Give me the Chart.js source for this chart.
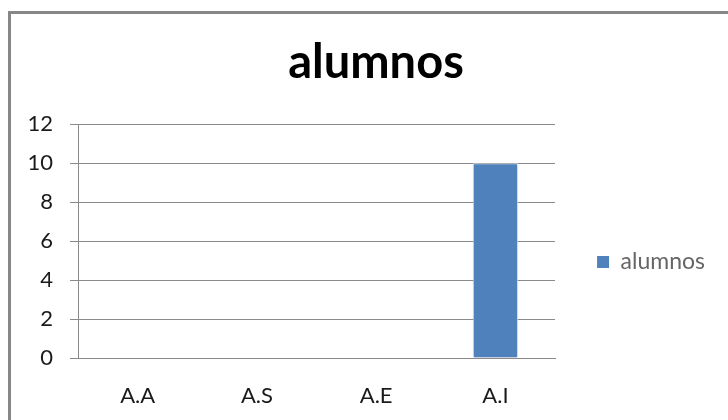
<!DOCTYPE html>
<html>
<head>
<meta charset="utf-8">
<script src="https://cdn.jsdelivr.net/npm/chart.js@4/dist/chart.umd.min.js"></script>
<style>
  html, body { margin: 0; padding: 0; background: #fff; overflow: hidden; }
  .wrap { position: relative; width: 728px; height: 420px; }
  .frame {
    position: absolute; left: 8px; top: 11px;
    width: 740px; height: 440px;
    border: 3px solid #878787;
    box-sizing: border-box;
  }
  canvas { position: absolute; left: 0; top: 0; }
</style>
</head>
<body>
<div class="wrap">
  <div class="frame"></div>
  <canvas id="chart" width="728" height="420"></canvas>
</div>
<script>
// data
const categories = ['A.A', 'A.S', 'A.E', 'A.I'];
const alumnos = [0, 0, 0, 10];
const yTicks = [0, 2, 4, 6, 8, 10, 12];

const gridColor = '#8a8a8a';
const barColor = '#4f81bd';

// soft halo around the bar, like the office chart
const barShadow = {
    id: 'barShadow',
    beforeDatasetsDraw(chart) {
        const ctx = chart.ctx;
        ctx.save();
        ctx.shadowColor = 'rgba(0,0,0,0.25)';
        ctx.shadowBlur = 6;
    },
    afterDatasetsDraw(chart) {
        chart.ctx.restore();
    }
};

// the title in the original sits a bit right of the canvas centre
const titleNudge = {
    id: 'titleNudge',
    afterLayout(chart) {
        if (chart.titleBlock) {
            chart.titleBlock.left += 8.5;
            chart.titleBlock.right += 8.5;
        }
    }
};

const ctx = document.getElementById('chart').getContext('2d');
new Chart(ctx, {
    type: 'bar',
    data: {
        labels: categories,
        datasets: [{
            label: 'alumnos',
            data: alumnos,
            backgroundColor: barColor,
            borderColor: 'rgba(255,255,255,0.85)',
            borderWidth: 1,
            categoryPercentage: 0.76,
            barPercentage: 0.5
        }]
    },
    plugins: [barShadow, titleNudge],
    options: {
        responsive: false,
        animation: false,
        layout: { padding: { left: 20, right: 13, top: 0, bottom: 0 } },
        plugins: {
            title: {
                display: true,
                text: 'alumnos',
                color: '#000',
                font: { family: 'Lato', size: 47, weight: 'bold' },
                padding: { top: 35, bottom: 33 }
            },
            legend: {
                position: 'right',
                title: {
                    display: true,
                    text: ' ',
                    font: { family: 'Lato', size: 20 },
                    padding: { top: 40, bottom: 40 }
                },
                labels: {
                    boxWidth: 12,
                    boxHeight: 12,
                    padding: 42,
                    color: '#1a1a1a',
                    font: { family: 'Lato', size: 23 },
                    generateLabels: function(chart) {
                        const ds = chart.data.datasets[0];
                        return [{
                            text: ds.label,
                            fillStyle: ds.backgroundColor,
                            strokeStyle: ds.backgroundColor,
                            lineWidth: 0,
                            datasetIndex: 0
                        }];
                    }
                }
            },
            tooltip: { enabled: false }
        },
        scales: {
            x: {
                afterFit: function(scale) { scale.height = 62; },
                grid: { display: false, drawTicks: false },
                border: { display: true, color: gridColor, width: 1 },
                ticks: {
                    color: '#1a1a1a',
                    padding: 25,
                    font: { family: 'Lato', size: 22 }
                }
            },
            y: {
                min: 0,
                max: 12,
                afterFit: function(scale) { scale.width = 58; },
                afterBuildTicks: function(scale) {
                    scale.ticks = yTicks.map(v => ({ value: v }));
                },
                grid: { color: gridColor, lineWidth: 1, tickLength: 8, drawTicks: true },
                border: { display: true, color: gridColor, width: 1 },
                ticks: {
                    color: '#1a1a1a',
                    padding: 17,
                    font: { family: 'Lato', size: 22 }
                }
            }
        }
    }
});
</script>
</body>
</html>
